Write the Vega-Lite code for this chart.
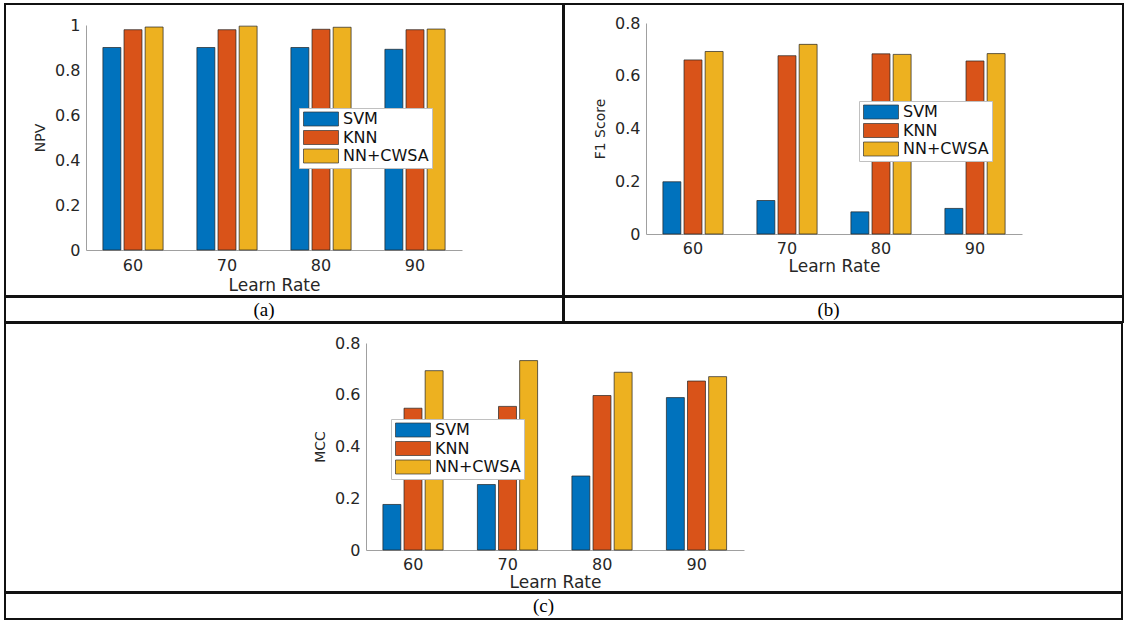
{
  "$schema": "https://vega.github.io/schema/vega-lite/v6.json",
  "padding": {"left": 4, "top": 3, "right": 1, "bottom": 1},
  "background": "white",
  "data": {"values": [
    {"metric": "NPV", "rate": 60, "model": "SVM", "value": 0.90},
    {"metric": "NPV", "rate": 60, "model": "KNN", "value": 0.979},
    {"metric": "NPV", "rate": 60, "model": "NN+CWSA", "value": 0.991},
    {"metric": "NPV", "rate": 70, "model": "SVM", "value": 0.90},
    {"metric": "NPV", "rate": 70, "model": "KNN", "value": 0.979},
    {"metric": "NPV", "rate": 70, "model": "NN+CWSA", "value": 0.995},
    {"metric": "NPV", "rate": 80, "model": "SVM", "value": 0.90},
    {"metric": "NPV", "rate": 80, "model": "KNN", "value": 0.981},
    {"metric": "NPV", "rate": 80, "model": "NN+CWSA", "value": 0.99},
    {"metric": "NPV", "rate": 90, "model": "SVM", "value": 0.892},
    {"metric": "NPV", "rate": 90, "model": "KNN", "value": 0.979},
    {"metric": "NPV", "rate": 90, "model": "NN+CWSA", "value": 0.982},
    {"metric": "F1", "rate": 60, "model": "SVM", "value": 0.198},
    {"metric": "F1", "rate": 60, "model": "KNN", "value": 0.66},
    {"metric": "F1", "rate": 60, "model": "NN+CWSA", "value": 0.692},
    {"metric": "F1", "rate": 70, "model": "SVM", "value": 0.127},
    {"metric": "F1", "rate": 70, "model": "KNN", "value": 0.676},
    {"metric": "F1", "rate": 70, "model": "NN+CWSA", "value": 0.719},
    {"metric": "F1", "rate": 80, "model": "SVM", "value": 0.084},
    {"metric": "F1", "rate": 80, "model": "KNN", "value": 0.683},
    {"metric": "F1", "rate": 80, "model": "NN+CWSA", "value": 0.681},
    {"metric": "F1", "rate": 90, "model": "SVM", "value": 0.097},
    {"metric": "F1", "rate": 90, "model": "KNN", "value": 0.656},
    {"metric": "F1", "rate": 90, "model": "NN+CWSA", "value": 0.684},
    {"metric": "MCC", "rate": 60, "model": "SVM", "value": 0.176},
    {"metric": "MCC", "rate": 60, "model": "KNN", "value": 0.548},
    {"metric": "MCC", "rate": 60, "model": "NN+CWSA", "value": 0.693},
    {"metric": "MCC", "rate": 70, "model": "SVM", "value": 0.253},
    {"metric": "MCC", "rate": 70, "model": "KNN", "value": 0.555},
    {"metric": "MCC", "rate": 70, "model": "NN+CWSA", "value": 0.732},
    {"metric": "MCC", "rate": 80, "model": "SVM", "value": 0.286},
    {"metric": "MCC", "rate": 80, "model": "KNN", "value": 0.597},
    {"metric": "MCC", "rate": 80, "model": "NN+CWSA", "value": 0.687},
    {"metric": "MCC", "rate": 90, "model": "SVM", "value": 0.589},
    {"metric": "MCC", "rate": 90, "model": "KNN", "value": 0.653},
    {"metric": "MCC", "rate": 90, "model": "NN+CWSA", "value": 0.67}
  ]},
  "spacing": -4,
  "resolve": {"scale": {"color": "independent", "x": "independent", "y": "independent"}, "legend": {"color": "independent"}},
  "vconcat": [
    {
      "spacing": -4,
      "resolve": {"scale": {"color": "independent", "x": "independent", "y": "independent"}, "legend": {"color": "independent"}},
      "hconcat": [
        {
          "width": 558, "height": 292,
          "transform": [{"filter": "datum.metric == 'NPV'"}],
          "mark": {"type": "bar", "stroke": "#222", "strokeWidth": 0.7},
          "encoding": {
            "x": {"field": "rate", "type": "nominal", "scale": {"range": [81, 457], "paddingInner": 0, "paddingOuter": 0}, "axis": {"offset": -46, "title": "Learn Rate", "titlePadding": 4, "labelPadding": 7}},
            "xOffset": {"field": "model", "sort": ["SVM", "KNN", "NN+CWSA"], "scale": {"paddingInner": 0.15, "paddingOuter": 0.8}},
            "y": {"field": "value", "type": "quantitative", "scale": {"domain": [0, 1], "range": [246, 21]}, "axis": {"offset": -81, "title": "NPV", "values": [0, 0.2, 0.4, 0.6, 0.8, 1], "format": "~g"}},
            "color": {"field": "model", "type": "nominal", "sort": ["SVM", "KNN", "NN+CWSA"], "scale": {"domain": ["SVM", "KNN", "NN+CWSA"], "range": ["#0072BD", "#D95319", "#EDB120"]}, "legend": {"title": null, "orient": "none", "legendX": 294, "legendY": 104}}
          }
        },
        {
          "width": 559, "height": 292,
          "transform": [{"filter": "datum.metric == 'F1'"}],
          "mark": {"type": "bar", "stroke": "#222", "strokeWidth": 0.7},
          "encoding": {
            "x": {"field": "rate", "type": "nominal", "scale": {"range": [82, 458], "paddingInner": 0, "paddingOuter": 0}, "axis": {"offset": -62, "title": "Learn Rate"}},
            "xOffset": {"field": "model", "sort": ["SVM", "KNN", "NN+CWSA"], "scale": {"paddingInner": 0.15, "paddingOuter": 0.8}},
            "y": {"field": "value", "type": "quantitative", "scale": {"domain": [0, 0.8], "range": [230, 19]}, "axis": {"offset": -82, "title": "F1 Score", "values": [0, 0.2, 0.4, 0.6, 0.8], "format": "~g"}},
            "color": {"field": "model", "type": "nominal", "sort": ["SVM", "KNN", "NN+CWSA"], "scale": {"domain": ["SVM", "KNN", "NN+CWSA"], "range": ["#0072BD", "#D95319", "#EDB120"]}, "legend": {"title": null, "orient": "none", "legendX": 295, "legendY": 97}}
          }
        }
      ]
    },
    {
      "spacing": -4,
      "hconcat": [
        {
          "width": 558, "height": 25,
          "view": {"stroke": "#111", "strokeWidth": 2},
          "data": {"values": [{"caption": "(a)"}]},
          "mark": {"type": "text", "font": "Liberation Serif", "fontSize": 19, "dx": -20, "baseline": "middle", "color": "black"},
          "encoding": {"text": {"field": "caption"}}
        },
        {
          "width": 559, "height": 25,
          "view": {"stroke": "#111", "strokeWidth": 2},
          "data": {"values": [{"caption": "(b)"}]},
          "mark": {"type": "text", "font": "Liberation Serif", "fontSize": 19, "dx": -15, "baseline": "middle", "color": "black"},
          "encoding": {"text": {"field": "caption"}}
        }
      ]
    },
    {
      "width": 1117, "height": 269,
      "transform": [{"filter": "datum.metric == 'MCC'"}],
      "mark": {"type": "bar", "stroke": "#222", "strokeWidth": 0.7},
      "encoding": {
        "x": {"field": "rate", "type": "nominal", "scale": {"range": [361, 739], "paddingInner": 0, "paddingOuter": 0}, "axis": {"offset": -42, "title": "Learn Rate"}},
        "xOffset": {"field": "model", "sort": ["SVM", "KNN", "NN+CWSA"], "scale": {"paddingInner": 0.15, "paddingOuter": 0.8}},
        "y": {"field": "value", "type": "quantitative", "scale": {"domain": [0, 0.8], "range": [227, 20]}, "axis": {"offset": -361, "title": "MCC", "values": [0, 0.2, 0.4, 0.6, 0.8], "format": "~g"}},
        "color": {"field": "model", "type": "nominal", "sort": ["SVM", "KNN", "NN+CWSA"], "scale": {"domain": ["SVM", "KNN", "NN+CWSA"], "range": ["#0072BD", "#D95319", "#EDB120"]}, "legend": {"title": null, "orient": "none", "legendX": 386, "legendY": 96}}
      }
    },
    {
      "width": 1117, "height": 26,
      "view": {"stroke": "#111", "strokeWidth": 2},
      "data": {"values": [{"caption": "(c)"}]},
      "mark": {"type": "text", "font": "Liberation Serif", "fontSize": 19, "dx": -20, "baseline": "middle", "color": "black"},
      "encoding": {"text": {"field": "caption"}}
    }
  ],
  "config": {
    "view": {"stroke": "#111", "strokeWidth": 2},
    "axis": {"grid": false, "ticks": false, "tickSize": 0, "domainColor": "#a0a0a0", "labelFont": "DejaVu Sans", "labelFontSize": 16, "labelColor": "#262626", "titleFont": "DejaVu Sans", "titleFontWeight": "normal", "titleColor": "#262626"},
    "axisX": {"labelPadding": 6, "labelAngle": 0, "titleFontSize": 17, "titlePadding": 2},
    "axisY": {"labelPadding": 6, "titlePadding": 7, "titleFontSize": 14},
    "legend": {"fillColor": "white", "strokeColor": "#c0c0c0", "padding": 3, "labelFont": "DejaVu Sans", "labelFontSize": 16, "labelColor": "#111", "symbolType": "M-2.5,-1H2.5V1H-2.5Z", "symbolSize": 196, "symbolOffset": 11, "symbolStrokeColor": "#333", "symbolStrokeWidth": 0.7, "labelOffset": 14, "rowPadding": 0.5}
  }
}
